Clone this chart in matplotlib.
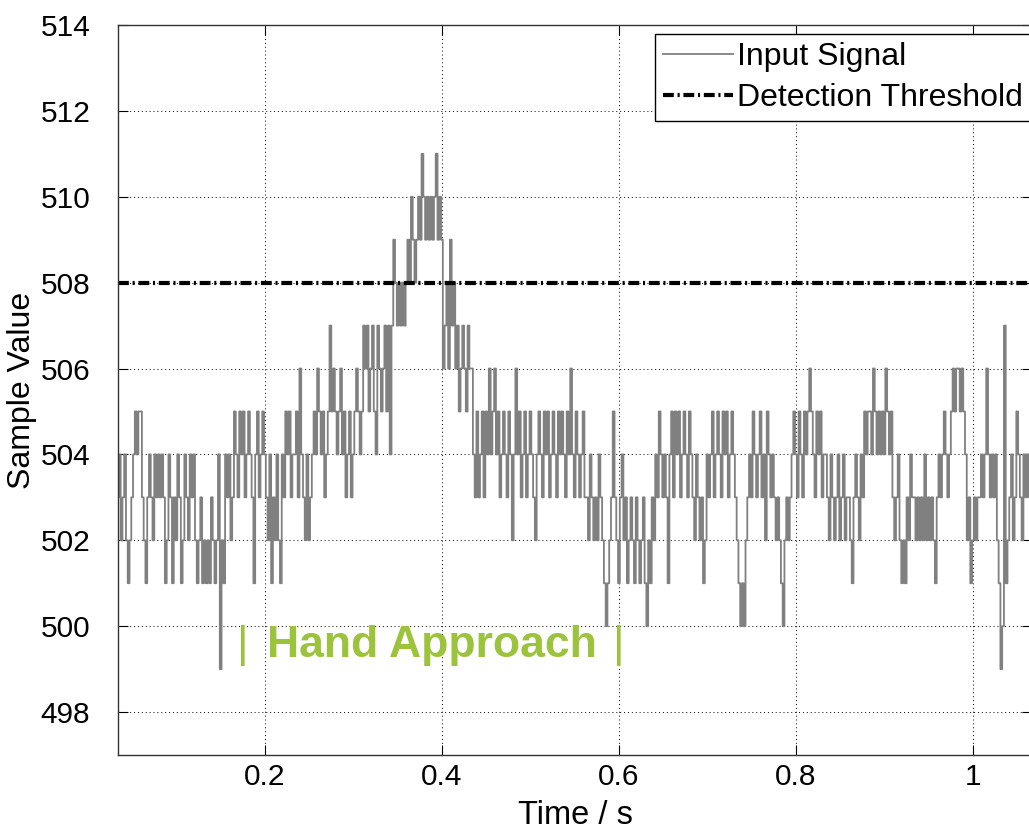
import numpy as np
import matplotlib.pyplot as plt

plt.rcParams['font.family'] = ['Liberation Sans', 'DejaVu Sans']

# sampled signal, 2 ms per sample starting at t0 (one row = 25 samples = 50 ms)
t0 = 0.034
dt = 0.002
signal = [
    503,504,502,503,504,502,501,502,503,504,505,504,505,505,503,502,501,503,504,503,502,504,503,504,503,
    504,503,501,502,504,503,501,503,502,504,503,501,502,504,503,502,504,503,504,502,501,502,503,501,502,
    501,502,501,503,502,501,502,504,499,502,501,504,503,504,502,503,505,504,503,505,504,505,503,504,505,
    504,503,501,504,505,503,504,505,504,503,502,504,501,503,502,504,502,501,504,503,505,504,505,503,504,
    504,505,503,506,504,503,502,504,502,503,504,505,504,506,505,504,505,503,504,505,507,505,506,505,504,
    505,506,504,505,503,504,505,503,504,505,506,505,504,505,507,506,507,505,506,507,505,504,507,506,505,
    506,507,505,507,504,507,509,508,507,508,507,508,507,508,509,508,510,509,508,509,510,509,511,510,509,
    510,509,510,509,510,511,509,510,509,506,507,508,506,509,507,508,506,507,505,506,507,506,505,507,506,
    506,504,503,505,503,504,505,503,505,504,506,504,505,506,504,505,503,504,505,504,503,505,504,502,504,
    506,504,505,503,504,505,503,504,505,504,503,502,504,505,504,503,505,504,505,503,504,505,504,503,505,
    504,505,504,503,505,504,506,504,503,505,504,503,504,505,503,503,502,504,503,502,503,502,504,503,502,
    501,500,501,502,503,505,503,502,501,503,504,502,503,501,502,503,502,501,503,502,501,502,503,501,500,
    502,501,503,502,504,503,505,504,503,504,503,501,504,505,503,505,504,505,503,504,505,504,503,505,504,
    503,502,504,503,502,503,501,502,504,503,504,505,503,504,505,504,503,505,504,505,503,504,505,504,503,
    502,501,500,501,500,502,503,504,503,505,504,503,504,505,503,504,502,505,504,503,504,503,502,503,502,
    501,500,502,503,502,503,504,505,504,503,505,504,503,505,504,505,506,505,504,503,505,504,505,503,504,
    504,503,502,504,503,502,503,504,502,503,504,502,503,503,502,501,503,504,503,502,504,503,505,504,505,
    505,504,506,505,504,505,504,505,504,506,505,504,505,503,502,503,504,502,501,502,501,503,502,504,503,
    503,502,503,502,503,502,504,502,503,502,503,502,501,503,504,503,504,505,504,503,504,505,506,505,506,
    506,505,506,505,504,502,503,501,502,503,502,503,503,504,503,504,506,504,503,504,503,504,502,501,499,
    500,507,501,502,503,504,502,503,505,504,503,502,504,503,504,503,504,503,502,504,503,504,503,502,503,
]
threshold = 508

xticks = [0.2, 0.4, 0.6, 0.8, 1.0]
xticklabels = ['0.2', '0.4', '0.6', '0.8', '1']
yticks = [498, 500, 502, 504, 506, 508, 510, 512, 514]

t = t0 + dt * np.arange(len(signal))

fs = 23.5
fig = plt.figure(figsize=(10.29, 8.3), dpi=100)
ax = fig.add_axes([118/1029, 75/830, 914/1029, 730/830])

ax.plot(t, signal, color='#808080', lw=1.3, drawstyle='steps-mid', label='Input Signal')
ax.axhline(threshold, color='k', lw=3, dashes=(2.6, 0.9, 0.5, 0.9), label='Detection Threshold')

ax.set_xlim(0.034, 1.0667)
ax.set_ylim(497, 514)
ax.set_xticks(xticks)
ax.set_xticklabels(xticklabels)
ax.set_yticks(yticks)
ax.grid(True, color='k', linestyle=(0, (1, 3)), lw=0.7)
ax.tick_params(direction='in', length=7, width=0.8, labelsize=21.5, top=True, right=True)
ax.tick_params(axis='y', pad=20)
ax.tick_params(axis='x', pad=6)
for s in ax.spines.values():
    s.set_linewidth(1.0)
    s.set_color('#333333')

ax.set_xlabel('Time / s', fontsize=fs)
ax.xaxis.set_label_coords(0.5, -0.061)
ax.set_ylabel('Sample Value', fontsize=23)
ax.yaxis.set_label_coords(-0.0886, 0.5)

green = '#9bc33c'
ax.text(0.1746, 499.28, '|', color=green, fontsize=32, ha='center', va='baseline')
ax.text(0.2023, 499.28, 'Hand Approach', color=green, fontsize=32,
        fontweight='bold', ha='left', va='baseline')
ax.text(0.5994, 499.28, '|', color=green, fontsize=32, ha='center', va='baseline')

leg = ax.legend(loc='upper left', bbox_to_anchor=(0.587, 0.988), borderaxespad=0,
                fontsize=23, handlelength=2.2, handletextpad=0.12, labelspacing=0.35,
                borderpad=0.25, fancybox=False, framealpha=1, edgecolor='k')
leg.get_frame().set_linewidth(1.0)

fig.savefig('out.png', dpi=100)
